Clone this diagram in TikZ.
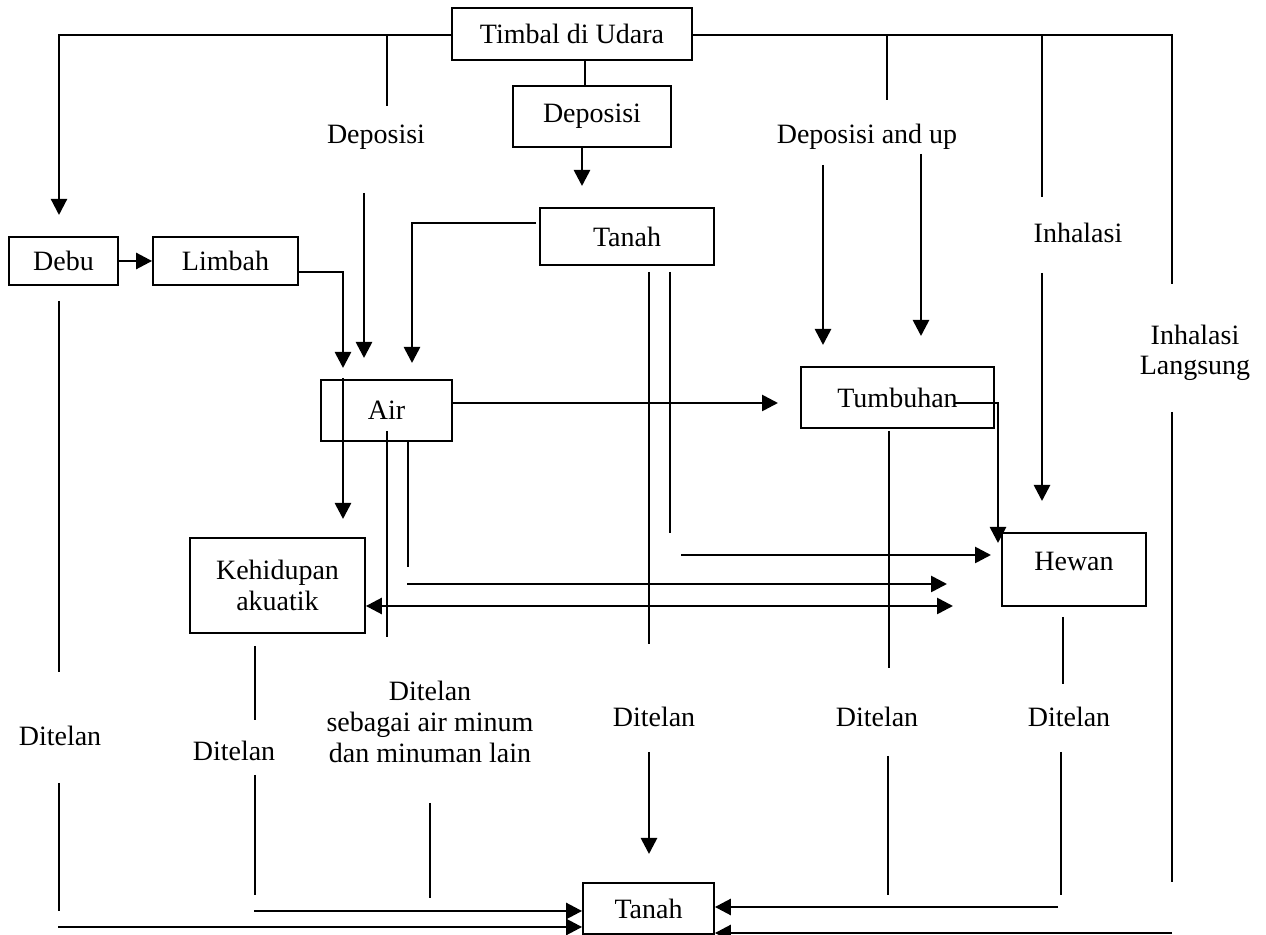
\documentclass[tikz,border=0pt]{standalone}
\usepackage{fontspec}
\setmainfont{Liberation Serif}
\usetikzlibrary{arrows.meta}
\newcommand\dfont{\fontsize{14pt}{15.3pt}\selectfont}
\begin{document}
\begin{tikzpicture}[x=0.5pt,y=-0.5pt,
  every node/.style={font=\dfont,inner sep=0pt,align=center},
  box/.style={draw,line width=0.9pt},
  ln/.style={line width=0.85pt},
  mid/.style={line width=1.1pt,-{Triangle[length=8pt,width=8pt]}},
  ar/.style={line width=1.35pt,-{Triangle[length=8pt,width=8pt]}},
  dar/.style={line width=1.35pt,{Triangle[length=8pt,width=8pt]}-{Triangle[length=8pt,width=8pt]}}]
\useasboundingbox (0,0) rectangle (1266,935);

% boxes
\node[box,minimum width=120pt,minimum height=26pt] (timbal) at (572,34) {Timbal di Udara};
\node[box,minimum width=79pt,minimum height=30.5pt] (dep) at (592,116.5) {Deposisi};
\node[box,minimum width=87pt,minimum height=28.5pt] (tanah1) at (627,236.5) {Tanah};
\node[box,minimum width=54.5pt,minimum height=24pt] (debu) at (63.5,261) {Debu};
\node[box,minimum width=72.5pt,minimum height=24pt] (limbah) at (225.5,261) {Limbah};
\node[box,minimum width=65.5pt,minimum height=30.5pt] (air) at (386.5,410.5) {Air};
\node[box,minimum width=96.5pt,minimum height=30.5pt] (tumb) at (897.5,397.5) {Tumbuhan};
\node[box,minimum width=72pt,minimum height=36.5pt,text depth=8pt] (hewan) at (1074,569.5) {Hewan};
\node[box,minimum width=87.5pt,minimum height=47.5pt] (kehid) at (277.5,585.5) {Kehidupan\\akuatik};
\node[box,minimum width=65.5pt,minimum height=25.5pt] (tanah2) at (648.5,908.5) {Tanah};

% labels
\node (l1) at (376,137) {Deposisi};
\node (l2) at (867,137) {Deposisi and up};
\node (l3) at (1078,233) {Inhalasi};
\node (l4) at (1195,353) {Inhalasi\\Langsung};
\node (l5) at (60,736) {Ditelan};
\node (l6) at (234,751) {Ditelan};
\node (l7) at (430,722) {Ditelan\\sebagai air minum\\dan minuman lain};
\node (l8) at (654,717) {Ditelan};
\node (l9) at (877,717) {Ditelan};
\node (l10) at (1069,717) {Ditelan};

% helper coordinates
\coordinate (dtip) at (59,215);
\coordinate (c35) at (0,35);
\coordinate (c585) at (585,0);
\coordinate (c582) at (582,0);
\coordinate (deptip) at (582,186);
\coordinate (c223) at (0,223);
\coordinate (c272) at (0,272);
\coordinate (c403) at (0,403);
\coordinate (c606) at (0,606);
\coordinate (c907) at (0,907);
\coordinate (c911) at (0,911);
\coordinate (c927) at (0,927);
\coordinate (c933) at (0,933);

% top distribution
\draw[mid] (timbal.west |- c35) -| (dtip);
\draw[ln] (timbal.east |- c35) -- (1172,35) -- (1172,284);
\draw[ln] (387,35) -- (387,106);
\draw[ln] (887,35) -- (887,100);
\draw[ln] (1042,35) -- (1042,197);
\draw[ln] (timbal.south -| c585) -- (dep.north -| c585);
\draw[ar] (dep.south -| c582) -- (deptip);

% deposisi arrows to Tumbuhan / Hewan
\draw[ar] (823,165) -- (823,345);
\draw[ar] (921,154) -- (921,336);
\draw[ar] (1042,273) -- (1042,501);
\draw[ln] (1172,412) -- (1172,882);

% Debu, Limbah, Air
\draw[ar] (debu.east) -- (limbah.west);
\draw[ar] (limbah.east |- c272) -| (343,368);
\draw[ar] (364,193) -- (364,358);
\draw[ar] ([xshift=-1.5pt]tanah1.west |- c223) -| (412,363);
\draw[ar] (343,378) -- (343,519);
\draw[ar] (air.east |- c403) -- (778,403);
\draw[ar] (955,403) -| (998,543);
\draw[ln] (387,431) -- (387,637);
\draw[ln] (408,441) -- (408,567);
\draw[ar] (407,584) -- (947,584);
\draw[dar] (kehid.east |- c606) -- (953,606);

% from Tanah
\draw[ln] (649,272) -- (649,644);
\draw[ln] (670,272) -- (670,533);
\draw[ar] (681,555) -- (991,555);

% vertical lines down
\draw[ln] (59,301) -- (59,672);
\draw[ln] (255,646) -- (255,720);
\draw[ln] (889,431) -- (889,668);
\draw[ln] (1063,617) -- (1063,684);

% bottom
\draw[ln] (59,783) -- (59,911);
\draw[ln] (255,775) -- (255,895);
\draw[ln] (430,803) -- (430,898);
\draw[ar] (649,752) -- (649,854);
\draw[ln] (888,756) -- (888,895);
\draw[ln] (1061,752) -- (1061,895);
\draw[ar] (254,911) -- (tanah2.west |- c911);
\draw[ar] (58,927) -- (tanah2.west |- c927);
\draw[ar] (1058,907) -- (tanah2.east |- c907);
\draw[ar] (1172,933) -- (tanah2.east |- c933);
\end{tikzpicture}
\end{document}
